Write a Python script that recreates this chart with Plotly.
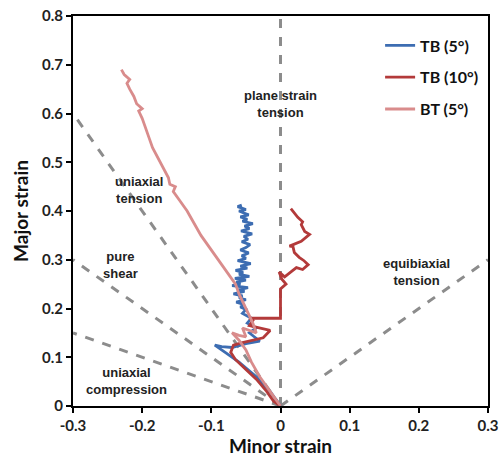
import plotly.graph_objects as go

# ---- data ----
tb5_x = [0, -0.015, -0.035, -0.06, -0.08, -0.095, -0.085, -0.07, -0.05, -0.03, -0.038, -0.045, -0.035,
         -0.048, -0.042, -0.055, -0.05, -0.058, -0.052, -0.064, -0.05, -0.06, -0.055, -0.068, -0.052,
         -0.061, -0.047, -0.07, -0.058, -0.064, -0.05, -0.066, -0.045, -0.06, -0.054, -0.065, -0.048,
         -0.058, -0.043, -0.062, -0.05, -0.056, -0.046, -0.058, -0.05, -0.044, -0.056, -0.047, -0.053,
         -0.041, -0.057, -0.045, -0.052, -0.04, -0.055, -0.048, -0.058, -0.046, -0.053, -0.06, -0.05,
         -0.057, -0.062, -0.056]
tb5_y = [0, 0.03, 0.06, 0.09, 0.11, 0.125, 0.122, 0.12, 0.128, 0.133, 0.142, 0.15, 0.16,
         0.17, 0.18, 0.19, 0.198, 0.203, 0.208, 0.213, 0.218, 0.222, 0.226, 0.23, 0.235,
         0.238, 0.243, 0.247, 0.25, 0.254, 0.258, 0.262, 0.266, 0.27, 0.274, 0.278, 0.283,
         0.287, 0.292, 0.298, 0.303, 0.308, 0.314, 0.32, 0.325, 0.331, 0.337, 0.342, 0.348,
         0.353, 0.359, 0.364, 0.369, 0.374, 0.379, 0.383, 0.388, 0.392, 0.396, 0.4, 0.403,
         0.406, 0.409, 0.412]

tb10_x = [0, -0.01, -0.02, -0.035, -0.05, -0.065, -0.072, -0.068, -0.055, -0.04, -0.025, -0.015, -0.03,
          -0.045, -0.04, -0.045, 0, 0, 0.008, 0.002, -0.002, 0.006, 0.016, 0.023, 0.032, 0.04, 0.034,
          0.027, 0.02, 0.018, 0.013, 0.03, 0.042, 0.035, 0.03, 0.032, 0.025, 0.02, 0.015]
tb10_y = [0, 0.01, 0.03, 0.055, 0.075, 0.095, 0.11, 0.125, 0.13, 0.135, 0.14, 0.155, 0.16,
          0.165, 0.175, 0.18, 0.18, 0.24, 0.25, 0.26, 0.275, 0.265, 0.276, 0.284, 0.28, 0.29, 0.298,
          0.305, 0.315, 0.327, 0.328, 0.338, 0.352, 0.358, 0.372, 0.378, 0.387, 0.397, 0.405]

bt5_x = [0, -0.015, -0.03, -0.042, -0.05, -0.06, -0.07, -0.06, -0.05, -0.055, -0.045, -0.035, -0.04,
         -0.045, -0.05, -0.056, -0.06, -0.065, -0.075, -0.085, -0.095, -0.105, -0.115, -0.125, -0.135,
         -0.145, -0.155, -0.152, -0.16, -0.162, -0.17, -0.178, -0.185, -0.19, -0.195, -0.2, -0.205,
         -0.2, -0.208, -0.212, -0.218, -0.222, -0.218, -0.226, -0.23]
bt5_y = [0, 0.03, 0.06, 0.09, 0.115, 0.135, 0.15, 0.145, 0.142, 0.16, 0.155, 0.15, 0.17,
         0.185, 0.2, 0.215, 0.23, 0.25, 0.27, 0.29, 0.31, 0.33, 0.35, 0.375, 0.4,
         0.42, 0.44, 0.45, 0.455, 0.468, 0.49, 0.51, 0.53, 0.55, 0.57, 0.59, 0.605,
         0.61, 0.62, 0.635, 0.65, 0.662, 0.67, 0.68, 0.69]

# reference strain paths (end points)
ref_x = [[0, 0], [0, 0.3], [0, -0.3], [0, -0.3], [0, -0.3]]
ref_y = [[0, 0.8], [0, 0.3], [0, 0.6], [0, 0.3], [0, 0.15]]

labels = ["plane strain<br>tension", "uniaxial<br>tension", "pure<br>shear",
          "uniaxial<br>compression", "equibiaxial<br>tension"]
label_x = [0.0, -0.205, -0.232, -0.222, 0.197]
label_y = [0.62, 0.444, 0.29, 0.051, 0.274]

x_ticks = [-0.3, -0.2, -0.1, 0, 0.1, 0.2, 0.3]
x_ticktext = ["-0.3", "-0.2", "-0.1", "0", "0.1", "0.2", "0.3"]
y_ticks = [0, 0.1, 0.2, 0.3, 0.4, 0.5, 0.6, 0.7, 0.8]
y_ticktext = ["0", "0.1", "0.2", "0.3", "0.4", "0.5", "0.6", "0.7", "0.8"]

FONT = "Lato"
LFONT = "Liberation Sans"

fig = go.Figure()
for rx, ry in zip(ref_x, ref_y):
    fig.add_trace(go.Scatter(x=rx, y=ry, mode="lines", showlegend=False,
                             line=dict(color="#8c8c8c", width=3, dash="dash"), hoverinfo="skip"))

series = [("TB (5°)", tb5_x, tb5_y, "#3d6db2"),
          ("TB (10°)", tb10_x, tb10_y, "#b33a3a"),
          ("BT (5°)", bt5_x, bt5_y, "#d98c8c")]
for i, (name, xs, ys, col) in enumerate(series):
    fig.add_trace(go.Scatter(x=xs, y=ys, mode="lines", name=name, legendgroup=f"g{i}",
                             line=dict(color=col, width=2.8)))

for t, lx, ly in zip(labels, label_x, label_y):
    fig.add_annotation(x=lx, y=ly, text=t, showarrow=False,
                       font=dict(family=LFONT, size=13, color="#222", weight="bold"))

axis_common = dict(showgrid=False, zeroline=False, showline=True, linecolor="black", linewidth=2,
                   mirror=True, ticks="outside", ticklen=5, tickwidth=2, tickcolor="black",
                   automargin=False,
                   tickfont=dict(family=FONT, size=15, color="#222", weight="bold"))

fig.update_layout(
    width=501, height=461,
    margin=dict(l=73, r=13, t=16, b=55),
    plot_bgcolor="white", paper_bgcolor="white",
    xaxis=dict(range=[-0.3, 0.3], tickvals=x_ticks, ticktext=x_ticktext,
               title=dict(text="Minor strain", standoff=0,
                          font=dict(family=FONT, size=19, color="#111", weight="bold")),
               **axis_common),
    yaxis=dict(range=[0, 0.8], tickvals=y_ticks, ticktext=y_ticktext,
               title=dict(text="Major strain", standoff=8,
                          font=dict(family=FONT, size=19, color="#111", weight="bold")),
               **axis_common),
    legend=dict(x=0.74, y=0.968, xanchor="left", yanchor="top", bgcolor="rgba(0,0,0,0)",
                font=dict(family=FONT, size=16, color="#111", weight="bold"),
                tracegroupgap=8, itemwidth=30),
)

fig.write_html("out.html", config={"displayModeBar": False},
               post_script="document.body.style.margin='0';document.body.style.overflow='hidden';")
